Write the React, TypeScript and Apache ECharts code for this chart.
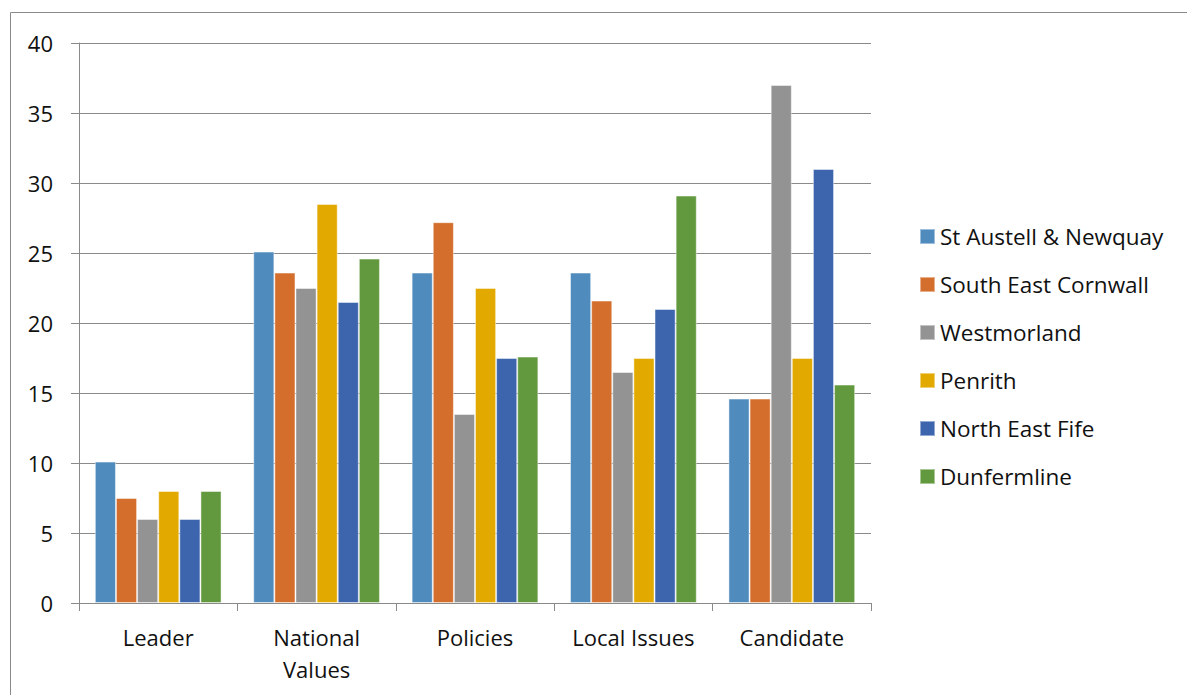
import React, { useEffect, useRef } from "react";
import * as echarts from "echarts";

const categories = ["Leader", "National Values", "Policies", "Local Issues", "Candidate"];
const seriesNames = [
  "St Austell & Newquay",
  "South East Cornwall",
  "Westmorland",
  "Penrith",
  "North East Fife",
  "Dunfermline",
];
const stAustell = [10.1, 25.1, 23.6, 23.6, 14.6];
const southEastCornwall = [7.5, 23.6, 27.2, 21.6, 14.6];
const westmorland = [6.0, 22.5, 13.5, 16.5, 37.0];
const penrith = [8.0, 28.5, 22.5, 17.5, 17.5];
const northEastFife = [6.0, 21.5, 17.5, 21.0, 31.0];
const dunfermline = [8.0, 24.6, 17.6, 29.1, 15.6];
const seriesValues = [stAustell, southEastCornwall, westmorland, penrith, northEastFife, dunfermline];
const colors = ["#4F8BBD", "#D46E2C", "#939393", "#E2AA00", "#3D65AE", "#62993E"];
const yTicks = { min: 0, max: 40, interval: 5 };

const FONT = "Open Sans";

export default function App() {
  const ref = useRef<HTMLDivElement>(null);
  useEffect(() => {
    if (!ref.current) return;
    const chart = echarts.init(ref.current, undefined, { renderer: "svg" });
    chart.setOption({
      animation: false,
      backgroundColor: "#ffffff",
      textStyle: { fontFamily: FONT },
      color: colors,
      graphic: [
        {
          type: "rect",
          shape: { x: 10.5, y: 12.5, width: 1200, height: 720 },
          style: { fill: "none", stroke: "#8a8a8a", lineWidth: 1 },
          silent: true,
        },
      ],
      grid: { left: 79, top: 43, right: 316, bottom: 92 },
      legend: {
        orient: "vertical",
        left: 914,
        top: 220,
        itemWidth: 15,
        itemHeight: 15,
        itemGap: 25,
        icon: "rect",
        textStyle: { fontFamily: FONT, fontSize: 22.5, color: "#111", lineHeight: 20 },
        data: seriesNames,
      },
      xAxis: {
        type: "category",
        data: categories,
        axisLine: { lineStyle: { color: "#8a8a8a", width: 1 } },
        axisTick: { show: true, length: 8, lineStyle: { color: "#8a8a8a" } },
        axisLabel: {
          fontFamily: FONT,
          fontSize: 22,
          color: "#111",
          lineHeight: 32,
          margin: 18,
          interval: 0,
          formatter: (v: string) => (v === "National Values" ? "National\nValues" : v),
        },
      },
      yAxis: {
        type: "value",
        min: yTicks.min,
        max: yTicks.max,
        interval: yTicks.interval,
        axisLine: { show: true, lineStyle: { color: "#8a8a8a", width: 1 } },
        axisTick: { show: true, length: 8, lineStyle: { color: "#8a8a8a" } },
        splitLine: { lineStyle: { color: "#8a8a8a", width: 1 } },
        axisLabel: { fontFamily: FONT, fontSize: 22, color: "#111", margin: 26 },
      },
      series: seriesNames.map((name, i) => ({
        name,
        type: "bar",
        data: seriesValues[i],
        barGap: "0%",
        barCategoryGap: "20%",
        itemStyle: { color: colors[i], borderColor: "rgba(255,255,255,0.45)", borderWidth: 1 },
      })),
    });
    return () => chart.dispose();
  }, []);
  return (
    <div
      ref={ref}
      style={{ position: "fixed", left: 0, top: 0, width: 1187, height: 695, background: "#fff" }}
    />
  );
}
